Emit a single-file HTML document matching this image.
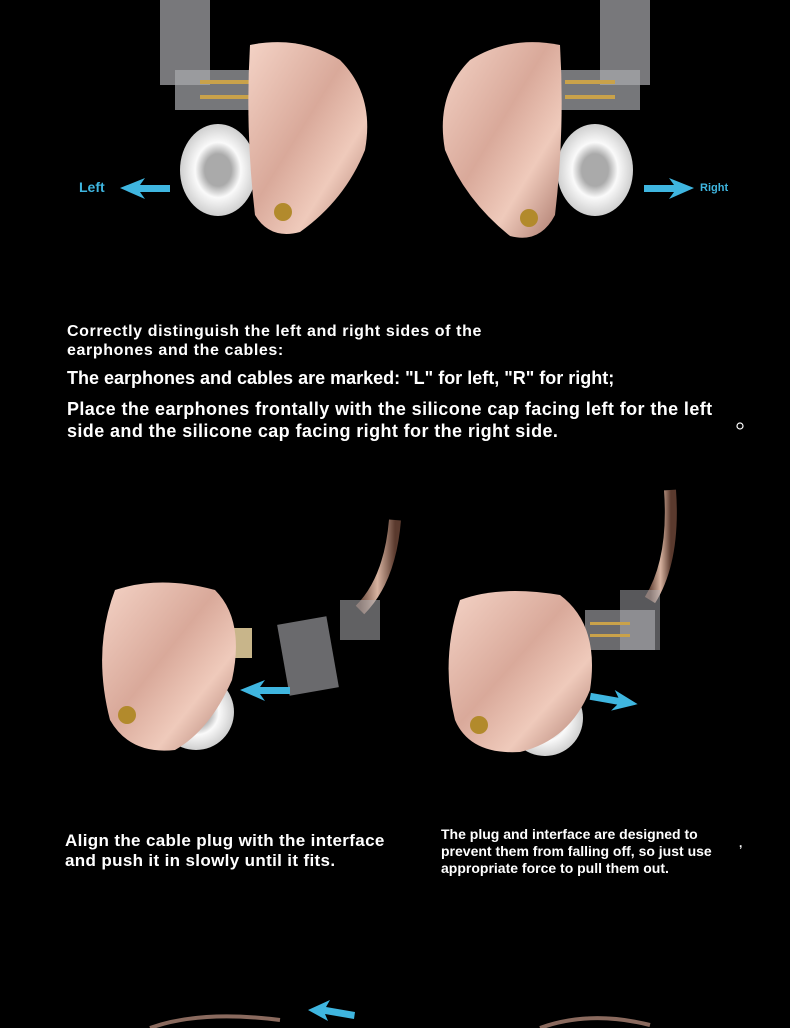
<!DOCTYPE html>
<html><head><meta charset="utf-8"><style>
html,body{margin:0;padding:0;background:#000;}
body{width:790px;height:1028px;position:relative;overflow:hidden;font-family:"Liberation Sans",sans-serif;color:#fff;font-weight:bold;}
.t{position:absolute;white-space:nowrap;}
svg{position:absolute;left:0;top:0;}
</style></head><body>
<svg width="790" height="1028" viewBox="0 0 790 1028">
<defs>
<linearGradient id="g" x1="0" y1="0" x2="1" y2="1">
<stop offset="0" stop-color="#f4d3c6"/><stop offset="0.45" stop-color="#d9a99a"/><stop offset="0.7" stop-color="#efcabb"/><stop offset="1" stop-color="#a9776a"/></linearGradient>
<radialGradient id="tip" cx="0.5" cy="0.5" r="0.5"><stop offset="0.35" stop-color="#aaa"/><stop offset="0.6" stop-color="#fafafa"/><stop offset="1" stop-color="#cfcfcf"/></radialGradient>
<linearGradient id="cab" x1="0" y1="0" x2="1" y2="0"><stop offset="0" stop-color="#6b4a3c"/><stop offset="0.5" stop-color="#d7b3a0"/><stop offset="1" stop-color="#5a3a2e"/></linearGradient>
</defs>
<rect x="160" y="0" width="50" height="85" fill="#b8b8bd" opacity="0.65"/>
<rect x="175" y="70" width="80" height="40" fill="#a8a9ae" opacity="0.7"/>
<rect x="200" y="80" width="50" height="4" fill="#c9a24a"/>
<rect x="200" y="95" width="50" height="4" fill="#c9a24a"/>
<ellipse cx="218" cy="170" rx="38" ry="46" fill="url(#tip)"/>
<path d="M250 45 Q300 35 340 60 Q375 95 365 150 Q345 200 300 232 Q270 240 255 215 Q245 130 250 45Z" fill="url(#g)"/>
<circle cx="283" cy="212" r="9" fill="#b28a2c"/>
<rect x="600" y="0" width="50" height="85" fill="#b8b8bd" opacity="0.65"/>
<rect x="560" y="70" width="80" height="40" fill="#a8a9ae" opacity="0.7"/>
<rect x="565" y="80" width="50" height="4" fill="#c9a24a"/>
<rect x="565" y="95" width="50" height="4" fill="#c9a24a"/>
<ellipse cx="595" cy="170" rx="38" ry="46" fill="url(#tip)"/>
<path d="M560 45 Q510 35 470 60 Q435 95 445 150 Q465 200 510 236 Q540 244 555 215 Q565 130 560 45Z" fill="url(#g)"/>
<circle cx="529" cy="218" r="9" fill="#b28a2c"/>
<polygon points="120,188 145,178 140,185 170,185 170,192 140,192 145,199" fill="#3fb6e0"/>
<polygon points="694,188 669,178 674,185 644,185 644,192 674,192 669,199" fill="#3fb6e0"/>
<circle cx="740" cy="426" r="3" fill="none" stroke="#fff" stroke-width="1.2"/>
<ellipse cx="196" cy="712" rx="38" ry="38" fill="url(#tip)"/>
<rect x="228" y="628" width="24" height="30" fill="#c8b58a"/>
<path d="M115 590 Q160 575 215 590 Q245 620 232 680 Q210 730 175 750 Q130 755 110 720 Q92 650 115 590Z" fill="url(#g)"/>
<circle cx="127" cy="715" r="9" fill="#b28a2c"/>
<path d="M395 520 Q390 580 360 610" stroke="url(#cab)" stroke-width="12" fill="none"/>
<rect x="283" y="620" width="50" height="72" fill="#b0b0b5" opacity="0.6" transform="rotate(-10 308 656)"/>
<rect x="340" y="600" width="40" height="40" fill="#b0b0b5" opacity="0.55"/>
<polygon points="240,690 265,680 260,687 290,687 290,694 260,694 265,701" fill="#3fb6e0"/>
<ellipse cx="545" cy="718" rx="38" ry="38" fill="url(#tip)"/>
<path d="M670 490 Q675 560 650 600" stroke="url(#cab)" stroke-width="12" fill="none"/>
<rect x="585" y="610" width="70" height="40" fill="#b0b0b5" opacity="0.6"/>
<rect x="620" y="590" width="40" height="60" fill="#b0b0b5" opacity="0.5"/>
<rect x="590" y="622" width="40" height="3" fill="#c9a24a"/>
<rect x="590" y="634" width="40" height="3" fill="#c9a24a"/>
<path d="M460 600 Q500 585 560 595 Q600 625 590 690 Q570 740 520 752 Q470 755 455 720 Q440 660 460 600Z" fill="url(#g)"/>
<circle cx="479" cy="725" r="9" fill="#b28a2c"/>
<polygon points="638,700 613,690 618,697 590,697 590,704 618,704 613,711" fill="#3fb6e0" transform="rotate(10 614 700)"/>
<path d="M150 1028 Q200 1010 280 1020" stroke="#8a6a5e" stroke-width="4" fill="none"/>
<path d="M540 1028 Q590 1010 650 1025" stroke="#8a6a5e" stroke-width="4" fill="none"/>
<polygon points="308,1010 330,1000 326,1007 355,1012 354,1019 325,1014 328,1021" fill="#3fb6e0"/>
</svg>
<div class="t" style="left:79px;top:179px;font-size:14px;color:#3fb6e0">Left</div>
<div class="t" style="left:700px;top:182px;font-size:11px;color:#3fb6e0">Right</div>
<div class="t" style="left:67px;top:322px;font-size:16px;line-height:19px;letter-spacing:0.6px">Correctly distinguish the left and right sides of the<br>earphones and the cables:</div>
<div class="t" style="left:67px;top:368px;font-size:18px">The earphones and cables are marked: "L" for left, "R" for right;</div>
<div class="t" style="left:67px;top:398px;font-size:18px;line-height:22px;letter-spacing:0.4px">Place the earphones frontally with the silicone cap facing left for the left<br>side and the silicone cap facing right for the right side.</div>
<div class="t" style="left:65px;top:831px;font-size:17px;line-height:20px;letter-spacing:0.35px">Align the cable plug with the interface<br>and push it in slowly until it fits.</div>
<div class="t" style="left:441px;top:826px;font-size:14px;line-height:17px">The plug and interface are designed to<br>prevent them from falling off, so just use<br>appropriate force to pull them out.</div>
<div class="t" style="left:739px;top:836px;font-size:12px">,</div>
</body></html>
